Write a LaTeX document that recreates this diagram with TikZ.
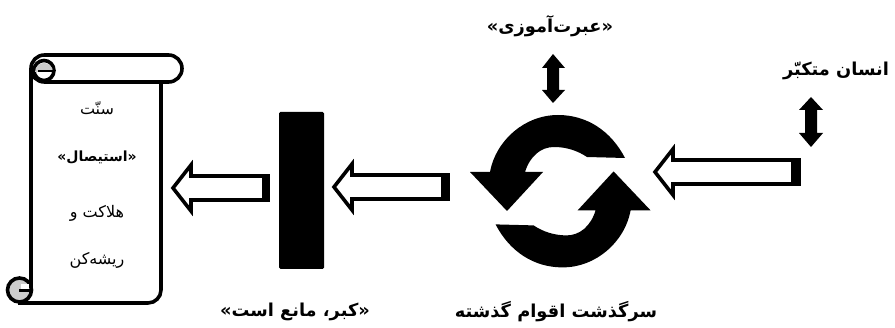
\documentclass[tikz,border=0pt]{standalone}
\usepackage{fontspec}
\newfontfamily\arabicfont[Script=Arabic]{DejaVu Sans}
\TeXXeTstate=1
\newcommand{\fatext}[1]{\arabicfont\beginR #1\endR}
\definecolor{curlgray}{gray}{0.8}
\tikzset{
  hollowarrow/.style={draw=black,line width=3.6pt,fill=white,miter limit=10},
  scrollline/.style={draw=black,line width=3.6pt},
  labeltext/.style={font=\bfseries\fontsize{17.8}{20}\selectfont},
  scrolltext/.style={font=\fontsize{16}{18}\selectfont},
}
\begin{document}
\begin{tikzpicture}[x=1pt,y=-1pt]

\useasboundingbox (0,0) rectangle (895,328);

% scroll
\draw[scrollline,rounded corners=13pt] (161,80) -- (161,303) -- (18,303);
\draw[scrollline] (31,68) -- (31,292);
\draw[scrollline,fill=white,rounded corners=13.4pt] (31,55) rectangle (182,82);
% top curl
\draw[scrollline,fill=white] (44,70.5) circle (10);
\fill[curlgray] (35,72) -- (53,72) arc[start angle=0,end angle=-180,radius=9,y=-1pt] -- cycle;
\draw[line width=2.5pt] (38,71) -- (54,71);
% bottom curl
\draw[scrollline,fill=curlgray] (19.5,290) circle (12);
\fill[white] (21,284) rectangle (29,289);
\draw[line width=2.5pt] (19,290.5) -- (31,290.5);

\node[scrolltext] (sunnat) at (97,108) {\fatext{سنّت}};
\node[font=\bfseries\fontsize{14}{16}\selectfont] (istisal) at (97,157) {\fatext{«استیصال»}};
\node[scrolltext] (halakat) at (97,213) {\fatext{هلاکت و}};
\node[scrolltext] (rishekan) at (97,260) {\fatext{ریشه‌کن}};

% hollow arrows
\draw[hollowarrow] (173,188) -- (191,165) -- (191,176) -- (268,176) -- (268,200) -- (191,200) -- (191,211) -- cycle;
\fill (262,174.2) rectangle (270,201.8);
\draw[hollowarrow] (334,187) -- (352,164) -- (352,175) -- (448,175) -- (448,199) -- (352,199) -- (352,210) -- cycle;
\fill (441,173.2) rectangle (450,200.8);
\draw[hollowarrow] (655,172) -- (673,149) -- (673,160) -- (799,160) -- (799,184) -- (673,184) -- (673,195) -- cycle;
\fill (791,158.2) rectangle (801,185.8);

% barrier
\fill[rounded corners=1.5pt] (279,112) rectangle (324,269);

% cycle arrows
\foreach \ang in {0,180}{
  \fill[rotate around={\ang:(560.3,191.2)}] (625,158) .. controls (611,131) and (587,115) .. (558,115)
    .. controls (525,115) and (496,140) .. (490,172) -- (470,172) -- (507,211) -- (543,172) -- (525,172)
    .. controls (530,156) and (541,147) .. (554,147) .. controls (567,147) and (578,151) .. (587,157) -- cycle;
}

% double arrows
\fill (553,54) -- (565,68) -- (559,68) -- (559,90) -- (565,90) -- (553,103) -- (542,90) -- (547,90) -- (547,68) -- (542,68) -- cycle;
\fill (811,97) -- (823,110) -- (817,110) -- (817,133) -- (823,133) -- (811,147) -- (799,133) -- (805,133) -- (805,110) -- (799,110) -- cycle;

% labels
\node[labeltext] (ibrat) at (550,26) {\fatext{«عبرت‌آموزی»}};
\node[labeltext] (insan) at (836,71) {\fatext{انسان متکبّر}};
\node[labeltext] (sarguzasht) at (556,312) {\fatext{سرگذشت اقوام گذشته}};
\node[labeltext] (kibr) at (295,312) {\fatext{«کبر، مانع است»}};

\end{tikzpicture}
\end{document}
